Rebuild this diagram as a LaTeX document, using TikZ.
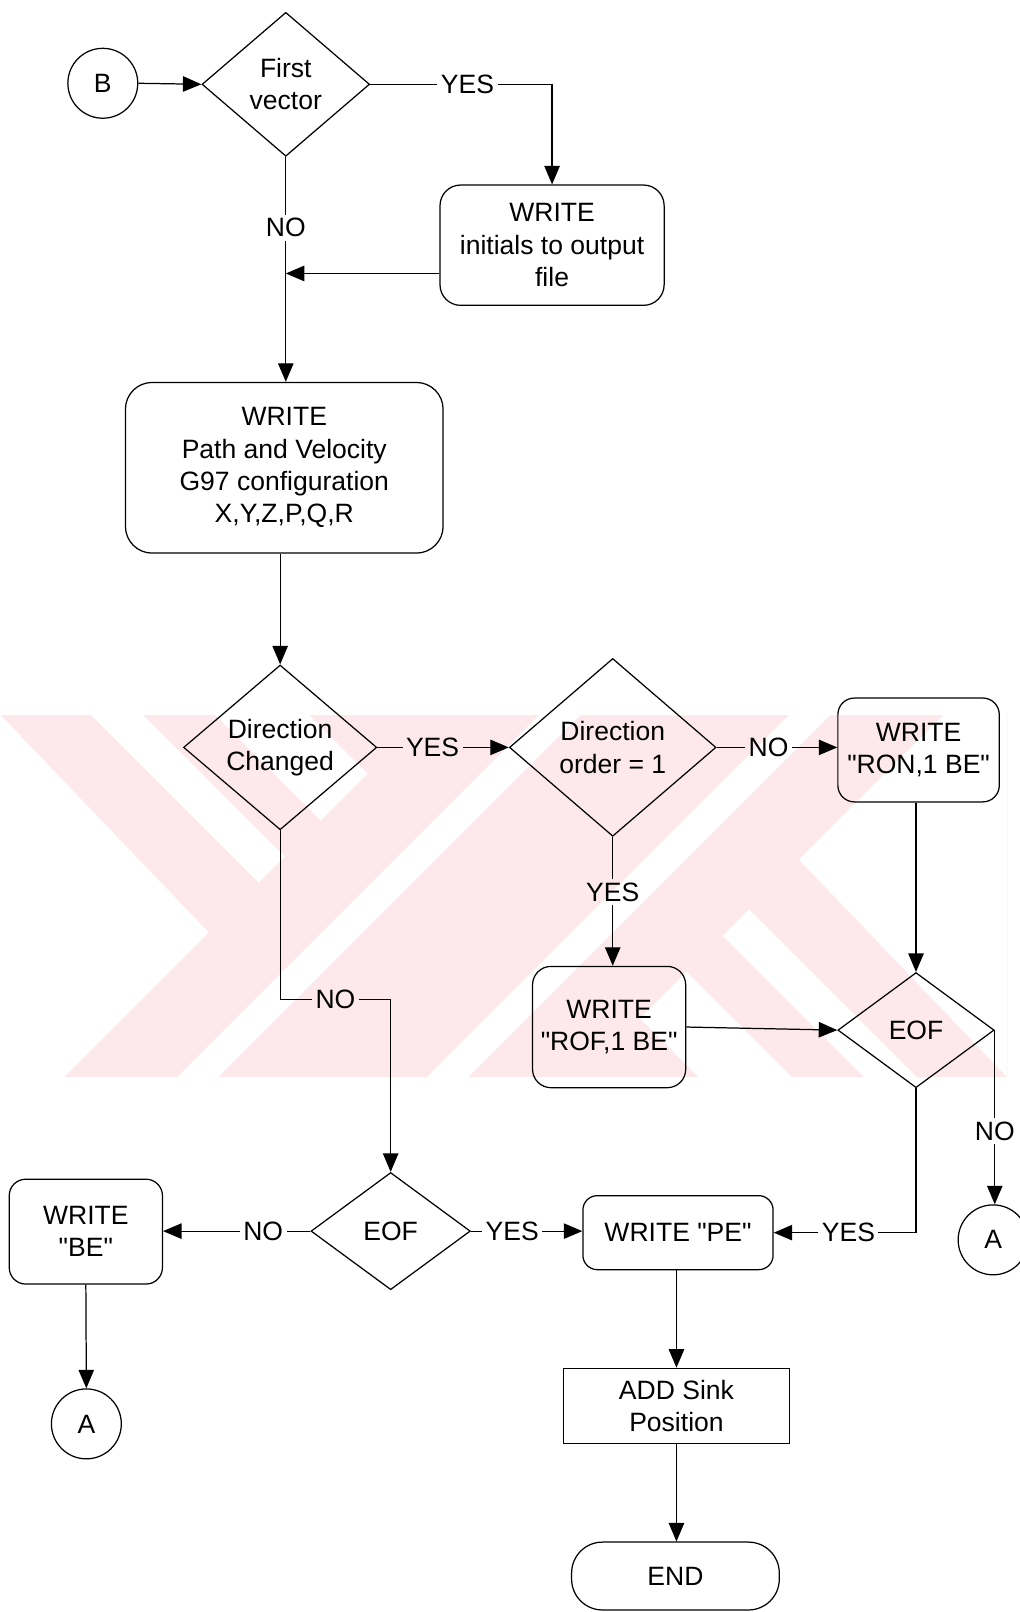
\documentclass[tikz,border=0pt]{standalone}
\usepackage{fontspec}
\newfontfamily\lsans{Liberation Sans}
\usetikzlibrary{shapes.geometric,arrows.meta}
\definecolor{wm}{RGB}{253,233,236}
\begin{document}
\begin{tikzpicture}[x=0.5pt,y=-0.5pt,
  every node/.style={font=\lsans\fontsize{12.9}{15.75}\selectfont},
  ln/.style={line width=0.6pt},
  arr/.style={line width=0.6pt,-{Triangle[length=9pt,width=7.5pt]}},
  proc/.style={draw,line width=0.6pt,align=center,inner sep=0pt},
  decision/.style={draw,line width=0.6pt,diamond,align=center,inner sep=0pt},
  conn/.style={draw,line width=0.6pt,circle,inner sep=0pt,minimum size=34pt},
  lbl/.style={inner sep=1.5pt}]
\useasboundingbox (0,0) rectangle (992,1568);
% watermark (background)
\fill[wm] (0,695) rectangle (980,1048);
\fill[white] (0,695) -- (203,907) -- (62,1048) -- (0,1048) -- cycle;
\fill[white] (88,695) -- (139,695) -- (277,833) -- (251.5,858.5) -- cycle;
\fill[white] (209,695) -- (300,695) -- (357.5,752.5) -- (312,798) -- cycle;
\fill[white] (525,695) -- (565,695) -- (212,1048) -- (172,1048) -- cycle;
\fill[white] (768,695) -- (808,695) -- (455,1048) -- (415,1048) -- cycle;
\fill[white] (980,1048) -- (777,836) -- (918,695) -- (980,695) -- cycle;
\fill[white] (892,1048) -- (841,1048) -- (703,910) -- (728.5,884.5) -- cycle;
\fill[white] (771,1048) -- (680,1048) -- (622.5,990.5) -- (668,945) -- cycle;
% nodes
\node[conn] (B) at (100,81) {B};
\node[decision,minimum width=81.5pt,minimum height=70pt] (d1) at (278,82) {First\\vector};
\node[proc,rounded corners=10pt,minimum width=109pt,minimum height=58.5pt] (init) at (537,238.5) {WRITE\\initials to output\\file};
\node[proc,rounded corners=13pt,minimum width=154.5pt,minimum height=83pt] (path) at (276.5,455) {WRITE\\Path and Velocity\\G97 configuration\\X,Y,Z,P,Q,R};
\node[decision,minimum width=94pt,minimum height=79.5pt] (d2) at (272.5,727) {Direction\\Changed};
\node[decision,minimum width=100.5pt,minimum height=86.5pt] (d3) at (596,727) {Direction\\order = 1};
\node[proc,rounded corners=8pt,minimum width=78.5pt,minimum height=50.5pt] (ron) at (893.5,729.5) {WRITE\\"RON,1 BE"};
\node[decision,minimum width=76pt,minimum height=56pt] (eofr) at (891,1002) {EOF};
\node[proc,rounded corners=9pt,minimum width=74.5pt,minimum height=59pt] (rof) at (592.5,999) {WRITE\\"ROF,1 BE"};
\node[decision,minimum width=77.5pt,minimum height=57pt] (eofm) at (380,1197.5) {EOF};
\node[proc,rounded corners=8pt,minimum width=74.5pt,minimum height=51pt] (be) at (83.5,1198) {WRITE\\"BE"};
\node[proc,rounded corners=7pt,minimum width=92.5pt,minimum height=36pt] (pe) at (659.5,1199) {WRITE "PE"};
\node[proc,minimum width=110pt,minimum height=36.5pt] (add) at (658,1367.5) {ADD Sink\\Position};
\node[proc,rounded corners=15pt,minimum width=101pt,minimum height=33pt] (end) at (657,1533) {END};
\node[conn] (ar) at (966,1206) {A};
\node[conn] (al) at (84,1385) {A};
% connectors
\coordinate (j1) at (278,266);
\coordinate (j2) at (380,972);
\draw[arr] (B.east) -- (d1.west);
\path (d1.east) -- node[lbl,pos=0.535] (l1) {YES} (d1.east -| init.north);
\draw[ln] (d1.east) -- (l1.west);
\draw[arr] (l1.east) -- (d1.east -| init.north) -- (init.north);
\path (d1.south) -- node[lbl,pos=0.315] (l2) {NO} (d1.south |- path.north);
\draw[ln] (d1.south) -- (l2.north);
\draw[arr] (l2.south) -- (d1.south |- path.north);
\draw[arr] (init.west |- j1) -- (j1);
\draw[arr] (d2.north |- path.south) -- (d2.north);
\path (d2.east) -- node[lbl,pos=0.42] (l3) {YES} (d3.west);
\draw[ln] (d2.east) -- (l3.west);
\draw[arr] (l3.east) -- (d3.west);
\path (d3.east) -- node[lbl,pos=0.43] (l4) {NO} (d3.east -| ron.west);
\draw[ln] (d3.east) -- (l4.west);
\draw[arr] (l4.east) -- (d3.east -| ron.west);
\draw[arr] (eofr.north |- ron.south) -- (eofr.north);
\path (d3.south) -- node[lbl,pos=0.43] (l5) {YES} (d3.south |- rof.north);
\draw[ln] (d3.south) -- (l5.north);
\draw[arr] (l5.south) -- (d3.south |- rof.north);
\draw[arr] (rof.east) -- (eofr.west);
\path (eofr.east) -- node[lbl,pos=0.58] (l6) {NO} (eofr.east |- ar.north);
\draw[ln] (eofr.east) -- (l6.north);
\draw[arr] (l6.south) -- (eofr.east |- ar.north);
\path (eofr.south |- pe.east) -- node[lbl,pos=0.475] (l7) {YES} (pe.east);
\draw[ln] (eofr.south) |- (l7.east);
\draw[arr] (l7.west) -- (pe.east);
\path (d2.south |- j2) -- node[lbl] (l8) {NO} (j2);
\draw[ln] (d2.south) |- (l8.west);
\draw[arr] (l8.east) -- (j2) -- (eofm.north);
\path (eofm.east) -- node[lbl,pos=0.37] (l9) {YES} (eofm.east -| pe.west);
\draw[ln] (eofm.east) -- (l9.west);
\draw[arr] (l9.east) -- (eofm.east -| pe.west);
\path (eofm.west) -- node[lbl,pos=0.32] (l10) {NO} (eofm.west -| be.east);
\draw[ln] (eofm.west) -- (l10.east);
\draw[arr] (l10.west) -- (eofm.west -| be.east);
\draw[arr] (be.south) -- (al.north);
\draw[arr] (add.north |- pe.south) -- (add.north);
\draw[arr] (add.south) -- (add.south |- end.north);
\end{tikzpicture}
\end{document}
